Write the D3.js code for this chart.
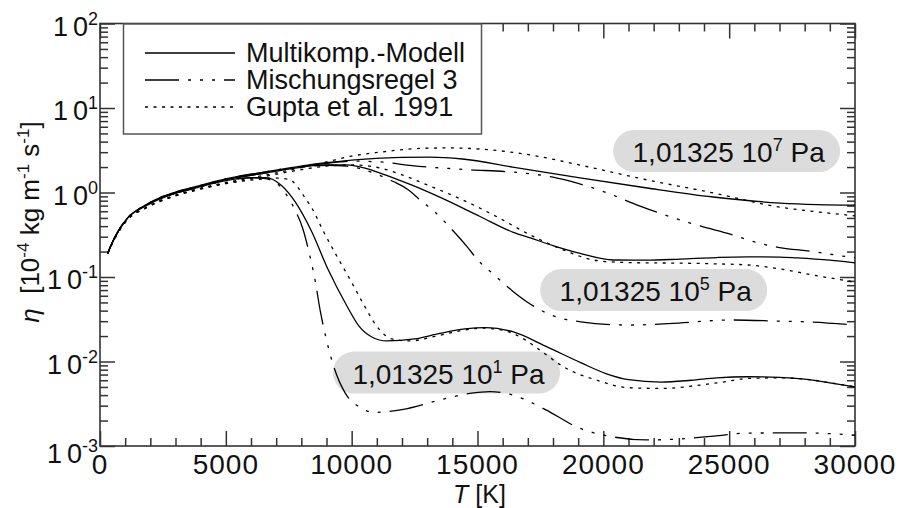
<!DOCTYPE html>
<html><head><meta charset="utf-8">
<script src="https://cdn.jsdelivr.net/npm/d3@7"></script>
<style>
body{margin:0;background:#fff}
svg{display:block;font-family:"Liberation Sans",Arial,Helvetica,sans-serif}
text{white-space:pre}
</style>
</head><body>
<svg id="chart" width="899" height="508"></svg>
<script>
// ---------- data (T in K, eta in 1e-4 kg m^-1 s^-1) ----------
const xTickValues = [0, 5000, 10000, 15000, 20000, 25000, 30000];
const yTickExponents = [2, 1, 0, -1, -2, -3];
const seriesNames = ["Multikomp.-Modell", "Mischungsregel 3", "Gupta et al. 1991"];
const pressureMantissa = "1,01325 10";
const pressureExponents = ["7", "5", "1"];
const pressureUnit = " Pa";

const multi_1e1 = [[300,0.19],[600,0.30],[1100,0.50],[1800,0.69],[2500,0.87],[3100,1.0],[3800,1.13],[5000,1.38],[6000,1.50],[6600,1.50],[7200,1.22],[7750,0.78],[8400,0.35],[9050,0.125],[9800,0.046],[10300,0.026],[10800,0.0195],[11400,0.0175],[12500,0.0185],[13500,0.0215],[14500,0.0243],[15300,0.0252],[16400,0.0225],[17700,0.0152],[19100,0.0097],[20100,0.0072],[21000,0.0061],[22300,0.0057],[23500,0.0060],[24500,0.0064],[25700,0.0066],[27000,0.0065],[28000,0.0062],[29000,0.0056],[30000,0.0050]];
const mix_1e1 = [[300,0.19],[600,0.30],[1100,0.50],[1800,0.69],[2500,0.87],[3100,1.0],[3800,1.13],[5000,1.38],[6000,1.49],[6500,1.47],[7000,1.30],[7400,0.95],[7750,0.62],[8050,0.38],[8300,0.20],[8550,0.09],[8750,0.04],[9000,0.018],[9300,0.0085],[9750,0.0042],[10300,0.0029],[10900,0.0025],[12000,0.0027],[13500,0.0035],[14700,0.0042],[15500,0.0044],[16400,0.0040],[17700,0.0027],[19000,0.00165],[20400,0.00128],[21700,0.00118],[23000,0.00121],[24400,0.00131],[25700,0.00142],[27700,0.00143],[29000,0.0014],[30000,0.00134]];
const gupta_1e1 = [[300,0.19],[600,0.29],[1100,0.48],[1800,0.65],[2500,0.81],[3100,0.93],[3800,1.06],[5000,1.27],[6300,1.43],[7000,1.48],[7550,1.42],[7850,1.16],[8150,0.86],[8450,0.63],[8850,0.36],[9350,0.19],[9950,0.092],[10500,0.046],[11000,0.026],[11600,0.0185],[12300,0.0175],[13300,0.0198],[14300,0.0230],[15200,0.0248],[16000,0.0235],[16700,0.0195],[17500,0.0135],[18400,0.0087],[19750,0.0060],[21000,0.0049],[22400,0.0048],[23700,0.0052],[24900,0.0058],[25700,0.0063],[27000,0.0064],[28000,0.0062],[29000,0.0056],[30000,0.0050]];

const multi_1e5 = [[300,0.19],[600,0.30],[1100,0.50],[1800,0.70],[2500,0.88],[3100,1.01],[3800,1.15],[5000,1.42],[6300,1.65],[7750,1.95],[9000,2.12],[9800,2.12],[10500,1.95],[11130,1.70],[12400,1.22],[13500,0.88],[15100,0.52],[16400,0.34],[17100,0.29],[18000,0.235],[19075,0.19],[20400,0.159],[21700,0.158],[23050,0.163],[24500,0.170],[25700,0.173],[27000,0.172],[27700,0.168],[29000,0.158],[30000,0.147]];
const mix_1e5 = [[300,0.19],[600,0.30],[1100,0.50],[1800,0.70],[2500,0.88],[3100,1.01],[3800,1.15],[5000,1.42],[6300,1.65],[7750,1.95],[9000,2.10],[9800,2.05],[10500,1.85],[11100,1.60],[11700,1.33],[12200,1.10],[12800,0.78],[13300,0.59],[14000,0.36],[14600,0.226],[15000,0.16],[15600,0.11],[16400,0.068],[17000,0.050],[17700,0.038],[18400,0.032],[19100,0.0295],[21000,0.027],[23000,0.0285],[25000,0.031],[27000,0.030],[28300,0.0293],[30000,0.027]];
const gupta_1e5 = [[300,0.19],[600,0.29],[1100,0.48],[1800,0.65],[2500,0.81],[3100,0.94],[3800,1.07],[5000,1.29],[6300,1.50],[7700,1.80],[9000,2.05],[10000,2.12],[11130,1.95],[12000,1.62],[13000,1.23],[14400,0.82],[15800,0.51],[17100,0.314],[18400,0.21],[19600,0.159],[20500,0.150],[21700,0.147],[23000,0.146],[24500,0.143],[25700,0.139],[27000,0.125],[28300,0.106],[30000,0.087]];

const multi_1e7 = [[300,0.19],[600,0.30],[1100,0.50],[1800,0.71],[2500,0.90],[3100,1.03],[3800,1.17],[5000,1.45],[6300,1.70],[7750,2.0],[9000,2.25],[10000,2.42],[11130,2.55],[12000,2.61],[13100,2.62],[14400,2.49],[16400,2.0],[19075,1.49],[21740,1.13],[24360,0.885],[27020,0.75],[28500,0.72],[30000,0.71]];
const mix_1e7 = [[300,0.19],[600,0.30],[1100,0.50],[1800,0.71],[2500,0.90],[3100,1.03],[3800,1.17],[5000,1.45],[6300,1.70],[7750,2.0],[9000,2.22],[10000,2.35],[11130,2.30],[12400,2.08],[14400,1.88],[16800,1.70],[18000,1.52],[19000,1.28],[20150,0.99],[21460,0.69],[23450,0.435],[24900,0.33],[26230,0.25],[26900,0.226],[28330,0.20],[29690,0.174],[30000,0.170]];
const gupta_1e7 = [[300,0.19],[600,0.29],[1100,0.48],[1800,0.66],[2500,0.83],[3100,0.95],[3800,1.09],[5000,1.31],[6300,1.55],[7750,1.90],[9000,2.30],[10000,2.70],[11130,3.0],[12500,3.3],[13800,3.37],[15100,3.27],[17100,2.78],[19075,2.11],[21740,1.41],[24360,0.99],[27020,0.67],[28500,0.59],[30000,0.53]];

// ---------- drawing ----------
const svg = d3.select("#chart");
const L = 100, R = 855, T = 23.5, B = 446;
const x = d3.scaleLinear().domain([0, 30000]).range([L, R]);
const y = d3.scaleLog().domain([1e-3, 1e2]).range([B, T]);
const axisColor = "#333";

const xMinor = d3.range(0, 30001, 1000).filter(v => v % 5000 !== 0);
const yMinor = [];
for (let e = -3; e < 2; e++) for (let k = 2; k <= 9; k++) yMinor.push(k * Math.pow(10, e));
const yMajor = yTickExponents.map(e => Math.pow(10, e));

function styleAxis(g) {
  g.select(".domain").remove();
  g.selectAll(".tick line").attr("stroke", axisColor).attr("stroke-width", 1.5);
  g.selectAll(".tick text").remove();
}
const axes = [
  [d3.axisBottom(x), `translate(0,${B})`, xTickValues, xMinor],
  [d3.axisTop(x), `translate(0,${T})`, xTickValues, xMinor],
  [d3.axisLeft(y), `translate(${L},0)`, yMajor, yMinor],
  [d3.axisRight(y), `translate(${R},0)`, yMajor, yMinor]
];
axes.forEach(([gen, tr, major, minor]) => {
  svg.append("g").attr("transform", tr).call(gen.tickValues(major).tickSizeInner(-15).tickSizeOuter(0)).call(styleAxis);
  svg.append("g").attr("transform", tr).call(gen.tickValues(minor).tickSizeInner(-8).tickSizeOuter(0)).call(styleAxis);
});
svg.append("rect").attr("x", L).attr("y", T).attr("width", R - L).attr("height", B - T)
  .attr("fill", "none").attr("stroke", axisColor).attr("stroke-width", 1.6);

// x tick labels
svg.append("g").selectAll("text").data(xTickValues).join("text")
  .attr("x", d => x(d)).attr("y", B + 28).attr("text-anchor", "middle")
  .attr("font-size", 28).attr("letter-spacing", 1).attr("fill", "#111").text(d => d);

// y tick labels
const yl = svg.append("g").selectAll("text").data(yTickExponents).join("text")
  .attr("x", 98).attr("y", (d, i) => y(Math.pow(10, d)) + (d === -3 ? 17 : 12))
  .attr("text-anchor", "end").attr("font-size", 27).attr("fill", "#111");
yl.append("tspan").text("1");
yl.append("tspan").attr("dx", 5).text("0");
yl.append("tspan").attr("dy", -11).attr("font-size", 18).text(d => d);

// axis titles
const yt = svg.append("text").attr("transform", "translate(39,222) rotate(-90)")
  .attr("text-anchor", "middle").attr("font-size", 26).attr("fill", "#111");
yt.append("tspan").attr("font-style", "italic").text("η");
yt.append("tspan").text("  [10");
yt.append("tspan").attr("dy", -10).attr("font-size", 17).text("-4");
yt.append("tspan").attr("dy", 10).text(" kg m");
yt.append("tspan").attr("dy", -10).attr("font-size", 17).text("-1");
yt.append("tspan").attr("dy", 10).text(" s");
yt.append("tspan").attr("dy", -10).attr("font-size", 17).text("-1");
yt.append("tspan").attr("dy", 10).text("]");

const xt = svg.append("text").attr("x", (L + R) / 2 + 2).attr("y", 503)
  .attr("text-anchor", "middle").attr("font-size", 25).attr("fill", "#111");
xt.append("tspan").attr("font-style", "italic").text("T");
xt.append("tspan").text(" [K]");

// pressure labels (pills)
const pillAnchors = [[24900, 3.1], [22000, 0.070], [13770, 0.0074]];
pressureExponents.forEach((ex, i) => {
  const cx = x(pillAnchors[i][0]), cy = y(pillAnchors[i][1]);
  svg.append("rect").attr("x", cx - 113.5).attr("y", cy - 21).attr("width", 227).attr("height", 42)
    .attr("rx", 21).attr("fill", "#dcdcdc");
  const t = svg.append("text").attr("x", cx + 2).attr("y", cy + 11).attr("text-anchor", "middle")
    .attr("font-size", 28).attr("fill", "#111");
  t.append("tspan").text(pressureMantissa);
  t.append("tspan").attr("dy", -11).attr("font-size", 18).text(ex);
  t.append("tspan").attr("dy", 11).text(pressureUnit);
});

// curves
const dashes = ["none", "34,9,3,9,3,9,3,9", "3,5.5"];
const series = [
  [multi_1e7, 0], [mix_1e7, 1], [gupta_1e7, 2],
  [multi_1e5, 0], [mix_1e5, 1], [gupta_1e5, 2],
  [multi_1e1, 0], [mix_1e1, 1], [gupta_1e1, 2]
];
const line = d3.line().x(d => x(d[0])).y(d => y(d[1])).curve(d3.curveMonotoneX);
svg.append("g").selectAll("path").data(series).join("path")
  .attr("d", d => line(d[0])).attr("fill", "none").attr("stroke", "#000")
  .attr("stroke-width", 1.3).attr("stroke-dasharray", d => dashes[d[1]]);

// legend
const lg = svg.append("g");
lg.append("rect").attr("x", 123.5).attr("y", 24).attr("width", 358).attr("height", 110)
  .attr("fill", "#fff").attr("stroke", "#555").attr("stroke-width", 1.5);
seriesNames.forEach((n, i) => {
  const ly = 53 + i * 27;
  lg.append("line").attr("x1", 145).attr("x2", 235).attr("y1", ly).attr("y2", ly)
    .attr("stroke", "#000").attr("stroke-width", 1.3).attr("stroke-dasharray", dashes[i]);
  lg.append("text").attr("x", 246).attr("y", ly + 9).attr("font-size", 27).attr("fill", "#111").text(n);
});
</script>
</body></html>
